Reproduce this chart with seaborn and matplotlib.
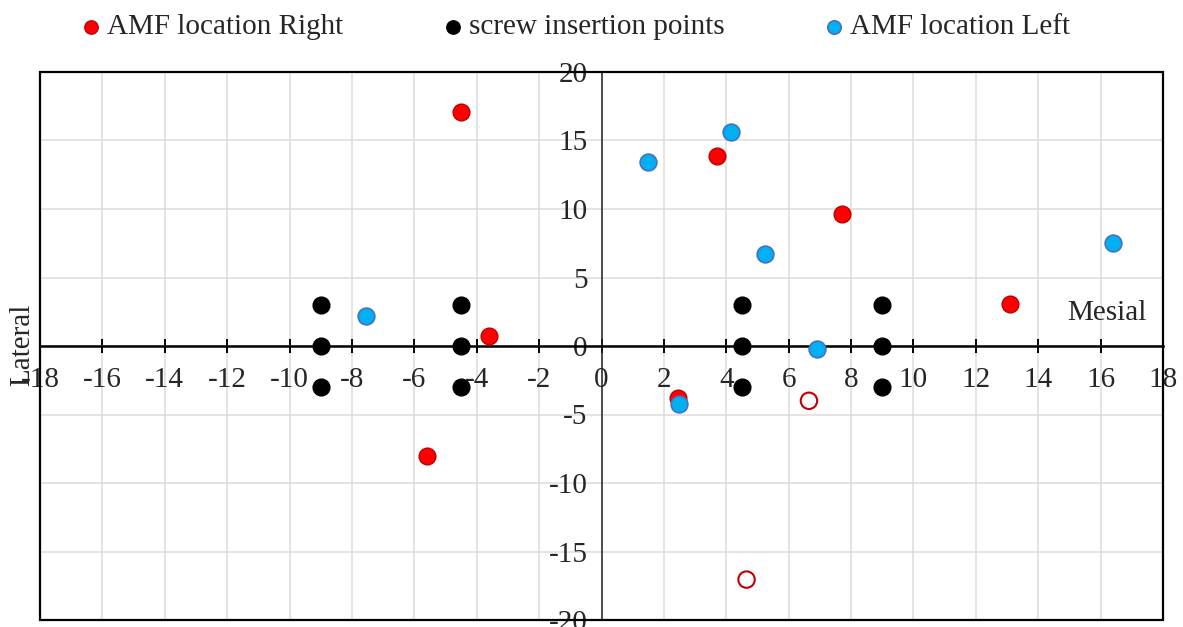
import numpy as np
import pandas as pd
import matplotlib
matplotlib.use("Agg")
import matplotlib.pyplot as plt
import seaborn as sns
from matplotlib.patches import Rectangle

# ---- data ----
right_x = [-4.5, 3.7, 7.7, 13.1, -3.6, 2.45, -5.6]
right_y = [17.1, 13.9, 9.6, 3.1, 0.75, -3.8, -8.0]
right_open_x = [6.65, 4.65]
right_open_y = [-4.0, -17.05]
screw_x = [-9, -9, -9, -4.5, -4.5, -4.5, 4.5, 4.5, 4.5, 9, 9, 9]
screw_y = [3, 0, -3, 3, 0, -3, 3, 0, -3, 3, 0, -3]
left_x = [1.5, 4.15, 5.25, 16.4, -7.55, 6.9, 2.5]
left_y = [13.4, 15.65, 6.75, 7.5, 2.2, -0.2, -4.2]
x_ticks = list(range(-18, 19, 2))
y_ticks = list(range(-20, 21, 5))
series_names = ["AMF location Right", "screw insertion points", "AMF location Left"]

sns.set_theme(style="white")
plt.rcParams["font.family"] = ["Liberation Serif", "DejaVu Serif"]
plt.rcParams["axes.unicode_minus"] = False

FS = 21

fig = plt.figure(figsize=(11.83, 6.27), dpi=100)
ax = fig.add_axes([40/1183, 1-620/627, (1163-40)/1183, (620-72)/627])

df_r = pd.DataFrame({"x": right_x, "y": right_y})
df_s = pd.DataFrame({"x": screw_x, "y": screw_y})
df_l = pd.DataFrame({"x": left_x, "y": left_y})
df_o = pd.DataFrame({"x": right_open_x, "y": right_open_y})

sns.scatterplot(data=df_r, x="x", y="y", ax=ax, color="#FF0000", edgecolor="#C00000",
                linewidth=1.0, s=145, label=series_names[0], zorder=3)
sns.scatterplot(data=df_s, x="x", y="y", ax=ax, color="#000000", edgecolor="#000000",
                linewidth=1.0, s=145, label=series_names[1], zorder=3)
sns.scatterplot(data=df_l, x="x", y="y", ax=ax, color="#00B0F0", edgecolor="#4472C4",
                linewidth=1.2, s=145, label=series_names[2], zorder=3)
ax.scatter(df_o["x"], df_o["y"], facecolors="none", edgecolors="#C00000",
           linewidths=1.5, s=140, zorder=3)

ax.set_xlim(-18, 18)
ax.set_ylim(-20, 20)
ax.set_xticks(x_ticks)
ax.set_yticks(y_ticks)
ax.set_xticklabels([str(t) for t in x_ticks])
ax.set_yticklabels([str(t) for t in y_ticks])
ax.set_xlabel("")
ax.set_ylabel("")
ax.grid(True, color="#DCDCDC", linewidth=1.1)
ax.set_axisbelow(True)

for s in ["top", "right"]:
    ax.spines[s].set_visible(False)
ax.spines["left"].set_position(("data", 0))
ax.spines["bottom"].set_position(("data", 0))
ax.spines["left"].set_color("#222222")
ax.spines["bottom"].set_color("black")
ax.spines["left"].set_linewidth(1.1)
ax.spines["bottom"].set_linewidth(1.8)
ax.spines["left"].set_zorder(2)
ax.spines["bottom"].set_zorder(2)

ax.add_patch(Rectangle((0, 0), 1, 1, transform=ax.transAxes, fill=False,
                       edgecolor="black", linewidth=1.6, clip_on=False, zorder=4))

ax.tick_params(axis="x", direction="inout", length=10, width=1.4, color="black",
               labelsize=FS, pad=10, bottom=True)
ax.tick_params(axis="y", length=0, labelsize=FS, pad=10, left=True)

ax.text(16.2, 2.4, "Mesial", fontsize=FS, ha="center", va="center", zorder=5)
fig.text(22/1183, 1-345/627, "Lateral", rotation=90, fontsize=FS, ha="center", va="center")

leg = ax.get_legend()
handles, labels = ax.get_legend_handles_labels()
leg.remove()
fig.legend(handles, labels, loc="center", bbox_to_anchor=(0.484, 1-27/627), ncol=3,
           frameon=False, fontsize=FS, handletextpad=0.0, columnspacing=3.2,
           markerscale=0.8, handlelength=1.1)

fig.savefig("out.png", dpi=100)
